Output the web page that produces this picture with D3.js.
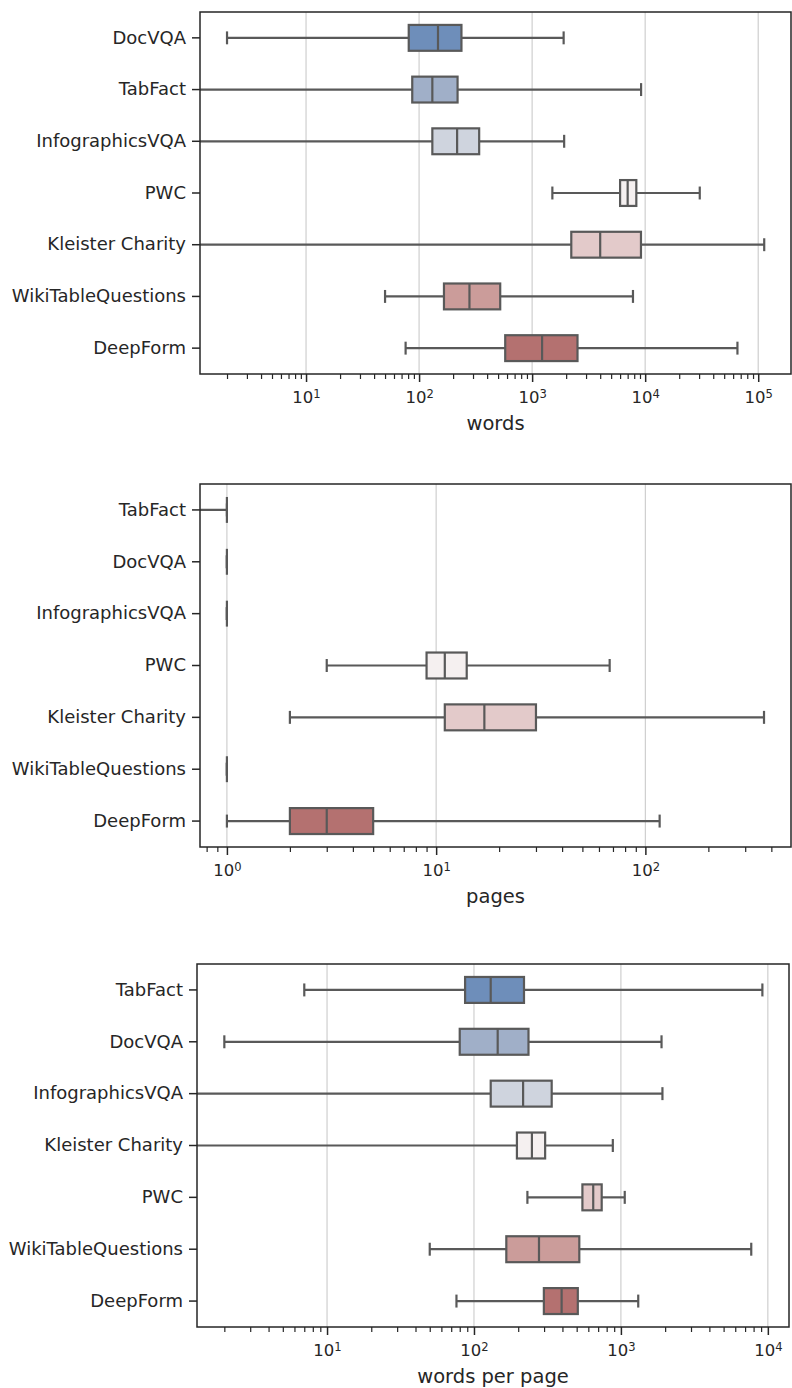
<!DOCTYPE html>
<html>
<head>
<meta charset="utf-8">
<script src="https://cdn.jsdelivr.net/npm/d3@7"></script>
<style>
  html, body { margin: 0; padding: 0; background: #ffffff; }
  svg { display: block; }
  text { font-family: "DejaVu Sans", sans-serif; fill: #262626; }
</style>
</head>
<body>
<svg id="chart" width="792" height="1388"></svg>
<script>
// ---------- DATA ----------
// Panel 1: words
const wordsCategories = ["DocVQA", "TabFact", "InfographicsVQA", "PWC", "Kleister Charity", "WikiTableQuestions", "DeepForm"];
const wordsLow    = [2,    1,    1,    1510, 1,     50,   76];
const wordsQ1     = [81,   87,   131,  6000, 2220,  166,  578];
const wordsMedian = [147,  131,  217,  7000, 4000,  279,  1225];
const wordsQ3     = [237,  219,  340,  8350, 9180,  522,  2520];
const wordsHigh   = [1900, 9200, 1920, 30400, 113000, 7800, 65500];

// Panel 2: pages
const pagesCategories = ["TabFact", "DocVQA", "InfographicsVQA", "PWC", "Kleister Charity", "WikiTableQuestions", "DeepForm"];
const pagesLow    = [0.5, 1, 1, 3,    2,    1, 1];
const pagesQ1     = [1,   1, 1, 9,    11,   1, 2];
const pagesMedian = [1,   1, 1, 11,   17,   1, 3];
const pagesQ3     = [1,   1, 1, 14,   30,   1, 5];
const pagesHigh   = [1,   1, 1, 67.5, 369,  1, 117];

// Panel 3: words per page
const wppCategories = ["TabFact", "DocVQA", "InfographicsVQA", "Kleister Charity", "PWC", "WikiTableQuestions", "DeepForm"];
const wppLow    = [7,    2,    1,    1,   231,  50,   76];
const wppQ1     = [87,   80,   130,  196, 547,  166,  299];
const wppMedian = [130,  145,  216,  248, 648,  277,  395];
const wppQ3     = [219,  235,  338,  305, 740,  521,  509];
const wppHigh   = [9180, 1890, 1917, 881, 1062, 7710, 1312];

// Tick labels (exponents of major ticks)
const wordsTickExponents = [1, 2, 3, 4, 5];
const pagesTickExponents = [0, 1, 2];
const wppTickExponents   = [1, 2, 3, 4];

const axisTitles = ["words", "pages", "words per page"];

// Palette by row position
const rowColors = ["#6e8eba", "#a0afc8", "#cfd4de", "#f5f0f0", "#e3caca", "#cb9c9a", "#b47170"];

// ---------- LAYOUT ----------
const layouts = [
  { x0: 200, x1: 791, y0: 12,  y1: 374,  domain: [Math.pow(10, 0.062), Math.pow(10, 5.29)] },
  { x0: 200, x1: 791, y0: 484, y1: 847,  domain: [Math.pow(10, -0.1286), Math.pow(10, 2.696)] },
  { x0: 197, x1: 789, y0: 964, y1: 1327, domain: [Math.pow(10, 0.115), Math.pow(10, 4.144)] }
];

const panels = [
  { cats: wordsCategories, lo: wordsLow, q1: wordsQ1, med: wordsMedian, q3: wordsQ3, hi: wordsHigh, exps: wordsTickExponents, title: axisTitles[0] },
  { cats: pagesCategories, lo: pagesLow, q1: pagesQ1, med: pagesMedian, q3: pagesQ3, hi: pagesHigh, exps: pagesTickExponents, title: axisTitles[1] },
  { cats: wppCategories,   lo: wppLow,   q1: wppQ1,   med: wppMedian,   q3: wppQ3,   hi: wppHigh,   exps: wppTickExponents,   title: axisTitles[2] }
];

const svg = d3.select("#chart");
const lineColor = "#595959";
const spineColor = "#262626";
const gridColor = "#cfcfcf";
const xTickFont = 16.5;
const yTickFont = 18;
const titleFont = 19.5;

panels.forEach((p, i) => {
  const L = layouts[i];
  const x = d3.scaleLog().domain(L.domain).range([L.x0, L.x1]);
  const y = d3.scaleBand().domain(p.cats).range([L.y0, L.y1]).paddingInner(0).paddingOuter(0);
  const g = svg.append("g");

  const clipId = "clip" + i;
  svg.append("clipPath").attr("id", clipId)
    .append("rect").attr("x", L.x0).attr("y", L.y0).attr("width", L.x1 - L.x0).attr("height", L.y1 - L.y0);

  // major and minor tick values
  const [d0, d1] = L.domain;
  const majors = p.exps.map(e => Math.pow(10, e));
  const minors = [];
  for (let e = Math.floor(Math.log10(d0)); e <= Math.ceil(Math.log10(d1)); e++) {
    for (let m = 2; m <= 9; m++) {
      const v = m * Math.pow(10, e);
      if (v >= d0 && v <= d1) minors.push(v);
    }
  }

  // gridlines
  g.append("g").selectAll("line").data(majors).join("line")
    .attr("x1", d => x(d)).attr("x2", d => x(d))
    .attr("y1", L.y0).attr("y2", L.y1)
    .attr("stroke", gridColor).attr("stroke-width", 1.2);

  // boxes
  const bw = y.bandwidth() * 0.5;
  const capW = bw * 0.5;
  const marks = g.append("g").attr("clip-path", `url(#${clipId})`);
  p.cats.forEach((c, k) => {
    const cy = y(c) + y.bandwidth() / 2;
    const gg = marks.append("g");
    // whiskers
    gg.append("line").attr("x1", x(Math.max(p.lo[k], 1e-3))).attr("x2", x(p.q1[k]))
      .attr("y1", cy).attr("y2", cy).attr("stroke", lineColor).attr("stroke-width", 2.2);
    gg.append("line").attr("x1", x(p.q3[k])).attr("x2", x(p.hi[k]))
      .attr("y1", cy).attr("y2", cy).attr("stroke", lineColor).attr("stroke-width", 2.2);
    // caps
    [p.lo[k], p.hi[k]].forEach(v => {
      gg.append("line").attr("x1", x(v)).attr("x2", x(v))
        .attr("y1", cy - capW / 2).attr("y2", cy + capW / 2)
        .attr("stroke", lineColor).attr("stroke-width", 2.2);
    });
    // box
    gg.append("rect").attr("x", x(p.q1[k])).attr("y", cy - bw / 2)
      .attr("width", Math.max(0, x(p.q3[k]) - x(p.q1[k]))).attr("height", bw)
      .attr("fill", rowColors[k]).attr("stroke", lineColor).attr("stroke-width", 2.2);
    // median
    gg.append("line").attr("x1", x(p.med[k])).attr("x2", x(p.med[k]))
      .attr("y1", cy - bw / 2).attr("y2", cy + bw / 2)
      .attr("stroke", lineColor).attr("stroke-width", 2.2);
  });

  // x axis: major ticks
  const xAxis = d3.axisBottom(x).tickValues(majors).tickSize(8).tickFormat(() => "");
  const ax = g.append("g").attr("transform", `translate(0,${L.y1})`).call(xAxis);
  ax.select(".domain").remove();
  ax.selectAll(".tick line").attr("stroke", spineColor).attr("stroke-width", 1.5);
  ax.selectAll(".tick").each(function(d) {
    const e = Math.round(Math.log10(d));
    const t = d3.select(this).append("text")
      .attr("y", 29).attr("text-anchor", "middle")
      .attr("font-size", xTickFont).style("fill", "#262626");
    t.append("tspan").text("10");
    t.append("tspan").attr("dy", "-0.45em").attr("font-size", xTickFont * 0.7).text(String(e));
  });
  // minor ticks
  const xMinor = d3.axisBottom(x).tickValues(minors).tickSize(5).tickFormat(() => "");
  const axm = g.append("g").attr("transform", `translate(0,${L.y1})`).call(xMinor);
  axm.select(".domain").remove();
  axm.selectAll(".tick line").attr("stroke", spineColor).attr("stroke-width", 1.2);

  // y axis
  const yAxis = d3.axisLeft(y).tickSize(8).tickPadding(6);
  const ay = g.append("g").attr("transform", `translate(${L.x0},0)`).call(yAxis);
  ay.select(".domain").remove();
  ay.selectAll(".tick line").attr("stroke", spineColor).attr("stroke-width", 1.5);
  ay.selectAll(".tick text").attr("font-size", yTickFont).attr("font-family", "DejaVu Sans").style("fill", "#262626");

  // frame
  g.append("rect").attr("x", L.x0).attr("y", L.y0)
    .attr("width", L.x1 - L.x0).attr("height", L.y1 - L.y0)
    .attr("fill", "none").attr("stroke", spineColor).attr("stroke-width", 1.5);

  // axis title
  g.append("text").attr("x", (L.x0 + L.x1) / 2).attr("y", L.y1 + 56)
    .attr("text-anchor", "middle").attr("font-size", titleFont).text(p.title);
});
</script>
</body>
</html>
